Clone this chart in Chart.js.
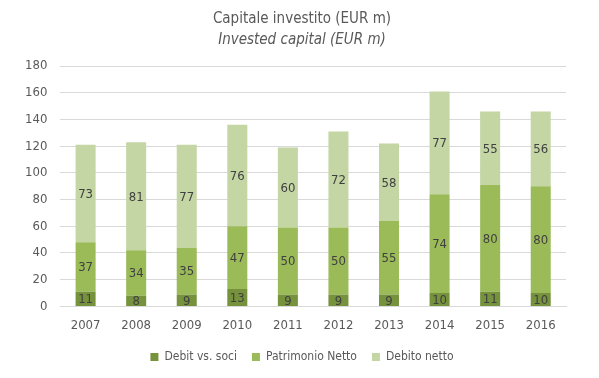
<!DOCTYPE html>
<html>
<head>
<meta charset="utf-8">
<script src="https://cdn.jsdelivr.net/npm/chart.js@4/dist/chart.umd.min.js"></script>
<style>
  html, body { margin: 0; padding: 0; background: #fff; }
  #wrap { width: 599px; height: 378px; }
</style>
</head>
<body>
<div id="wrap"><canvas id="capChart" width="599" height="378"></canvas></div>
<script>
// Chart data
const years = ['2007', '2008', '2009', '2010', '2011', '2012', '2013', '2014', '2015', '2016'];
const debitSoci = [11, 8, 9, 13, 9, 9, 9, 10, 11, 10];
const patrimonioNetto = [37, 34, 35, 47, 50, 50, 55, 74, 80, 80];
const debitoNetto = [73, 81, 77, 76, 60, 72, 58, 77, 55, 56];
const yTicks = [0, 20, 40, 60, 80, 100, 120, 140, 160, 180];

const FONT = "'Liberation Sans Narrow', 'DejaVu Sans Condensed', 'Open Sans', sans-serif";
const TEXT = '#595959';

// Value labels in the middle of each segment
const segmentLabels = {
    id: 'segmentLabels',
    afterDatasetsDraw(chart) {
        const ctx = chart.ctx;
        ctx.save();
        ctx.font = '13px ' + FONT;
        ctx.fillStyle = '#404040';
        ctx.textAlign = 'center';
        ctx.textBaseline = 'middle';
        chart.data.datasets.forEach((ds, i) => {
            chart.getDatasetMeta(i).data.forEach((bar, j) => {
                const p = bar.getCenterPoint();
                ctx.fillText(ds.data[j], p.x, p.y + 1);
            });
        });
        ctx.restore();
    }
};

// Title and legend sit a bit right of the layout centre in the original
const shiftBlocks = {
    id: 'shiftBlocks',
    afterLayout(chart) {
        const dx = 13;
        chart.boxes.forEach(box => {
            if (box === chart.titleBlock || box === chart.legend || (box.options && box.options.text === 'Invested capital (EUR m)')) {
                box.left += dx;
                box.right += dx;
            }
        });
    }
};

new Chart(document.getElementById('capChart').getContext('2d'), {
    type: 'bar',
    data: {
        labels: years,
        datasets: [
            { label: 'Debit vs. soci', data: debitSoci, backgroundColor: '#76923C' },
            { label: 'Patrimonio Netto', data: patrimonioNetto, backgroundColor: '#9BBB59' },
            { label: 'Debito netto', data: debitoNetto, backgroundColor: '#C4D6A4' }
        ]
    },
    options: {
        responsive: false,
        animation: false,
        layout: { padding: { left: 12, right: 33, top: 4, bottom: 5 } },
        datasets: { bar: { categoryPercentage: 0.6, barPercentage: 0.66 } },
        plugins: {
            title: {
                display: true,
                text: 'Capitale investito (EUR m)',
                color: TEXT,
                font: { family: FONT, size: 15, weight: 'normal' },
                padding: { top: 6, bottom: 3 }
            },
            subtitle: {
                display: true,
                text: 'Invested capital (EUR m)',
                color: TEXT,
                font: { family: FONT, size: 15, style: 'italic' },
                padding: { bottom: 17 }
            },
            legend: {
                position: 'bottom',
                labels: {
                    color: TEXT,
                    font: { family: FONT, size: 12 },
                    boxWidth: 8,
                    boxHeight: 8,
                    padding: 15
                }
            },
            tooltip: { enabled: false }
        },
        scales: {
            x: {
                stacked: true,
                grid: { display: false },
                border: { color: '#d9d9d9' },
                ticks: { color: TEXT, font: { family: FONT, size: 13 }, padding: 3 }
            },
            y: {
                stacked: true,
                min: 0,
                max: 180,
                afterBuildTicks: axis => { axis.ticks = yTicks.map(v => ({ value: v })); },
                grid: { color: '#d9d9d9', drawTicks: false },
                border: { display: false },
                ticks: { color: TEXT, font: { family: FONT, size: 13 }, padding: 13 }
            }
        }
    },
    plugins: [segmentLabels, shiftBlocks]
});
</script>
</body>
</html>
